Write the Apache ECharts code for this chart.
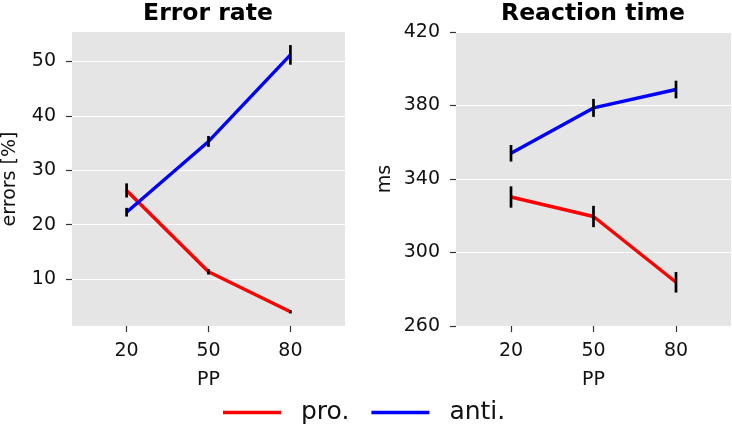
<!DOCTYPE html>
<html><head><meta charset="utf-8">
<script src="https://cdn.jsdelivr.net/npm/echarts@6/dist/echarts.min.js"></script>
<style>html,body{margin:0;padding:0;background:#fff}#c{width:732px;height:431px}</style>
</head><body><div id="c"></div>
<script>
const pp = [20, 50, 80];
const errPro = [26.3, 11.35, 4.0];
const errProSd = [1.3, 0.5, 0.3];
const errAnti = [22.3, 35.3, 51.2];
const errAntiSd = [0.8, 1.0, 1.8];
const rtPro = [330.2, 319.6, 283.8];
const rtProSd = [5.8, 5.8, 5.6];
const rtAnti = [354.0, 378.7, 388.7];
const rtAntiSd = [4.5, 4.9, 4.8];
const errTicks = [10, 20, 30, 40, 50];
const rtTicks = [260, 300, 340, 380, 420];
const titles = ['Error rate', 'Reaction time'];
const yNames = ['errors [%]', 'ms'];
const seriesNames = ['pro.', 'anti.'];

const pts = (xs, ys) => xs.map((x, i) => [x, ys[i]]);
const bars = (xs, ys, sd) => xs.map((x, i) => [x, ys[i] - sd[i], ys[i] + sd[i]]);
const font = 'DejaVu Sans';
const txt = '#111';

function xAxis(idx) {
  return {
    type: 'value', gridIndex: idx, min: 0, max: 100,
    name: 'PP', nameLocation: 'middle', nameGap: 45,
    nameTextStyle: { fontFamily: font, fontSize: 19, color: txt },
    axisLine: { show: false },
    axisTick: { show: true, length: 6, customValues: pp, lineStyle: { color: '#333', width: 1.2 } },
    axisLabel: { customValues: pp, fontFamily: font, fontSize: 19, color: txt, margin: 16 },
    splitLine: { show: false }
  };
}
function yAxis(idx, min, max, ticks) {
  return {
    type: 'value', gridIndex: idx, min: min, max: max,
    name: yNames[idx], nameLocation: 'middle', nameGap: idx === 0 ? 52 : 61, nameRotate: 90,
    nameTextStyle: { fontFamily: font, fontSize: 19, color: txt },
    axisLine: { show: false },
    axisTick: { show: true, length: 6, customValues: ticks, lineStyle: { color: '#333', width: 1.2 } },
    axisLabel: { customValues: ticks, fontFamily: font, fontSize: 19, color: txt, margin: 16 },
    splitLine: { show: true, lineStyle: { color: '#ffffff', width: 1.2 } }
  };
}
function errSeries(idx, data) {
  return {
    type: 'custom', xAxisIndex: idx, yAxisIndex: idx, z: 10, silent: true,
    renderItem: function (params, api) {
      const p1 = api.coord([api.value(0), api.value(1)]);
      const p2 = api.coord([api.value(0), api.value(2)]);
      return { type: 'line', shape: { x1: p1[0], y1: p1[1], x2: p2[0], y2: p2[1] },
        style: { stroke: '#000', lineWidth: 2.7 } };
    },
    encode: { x: 0, y: [1, 2] },
    data: data
  };
}
function lineSeries(idx, name, color, data) {
  return { type: 'line', name: name, xAxisIndex: idx, yAxisIndex: idx, data: data,
    symbol: 'none', lineStyle: { color: color, width: 3.4 }, itemStyle: { color: color }, z: 5 };
}

const chart = echarts.init(document.getElementById('c'), null, { renderer: 'canvas' });
chart.setOption({
  animation: false,
  backgroundColor: '#fff',
  title: [
    { text: titles[0], left: 208, top: 2, padding: 0, textAlign: 'center', textStyle: { fontFamily: font, fontWeight: 'bold', fontSize: 23.5, color: '#000' } },
    { text: titles[1], left: 593, top: 2, padding: 0, textAlign: 'center', textStyle: { fontFamily: font, fontWeight: 'bold', fontSize: 23.5, color: '#000' } }
  ],
  grid: [
    { left: 71, right: 387, top: 32, bottom: 105, show: true, backgroundColor: '#e5e5e5', borderWidth: 0 },
    { left: 456, right: 1, top: 32, bottom: 105, show: true, backgroundColor: '#e5e5e5', borderWidth: 0 }
  ],
  xAxis: [xAxis(0), xAxis(1)],
  yAxis: [yAxis(0, 1.4, 55.4, errTicks), yAxis(1, 260, 420, rtTicks)],
  legend: {
    left: 223, top: 400, padding: 0, itemWidth: 58, itemHeight: 3.3, itemGap: 22,
    icon: 'rect',
    data: seriesNames,
    textStyle: { fontFamily: font, fontSize: 25, color: '#111', padding: [0, 0, 0, 15] }
  },
  series: [
    lineSeries(0, seriesNames[0], '#ff0000', pts(pp, errPro)),
    lineSeries(0, seriesNames[1], '#0000ff', pts(pp, errAnti)),
    lineSeries(1, seriesNames[0], '#ff0000', pts(pp, rtPro)),
    lineSeries(1, seriesNames[1], '#0000ff', pts(pp, rtAnti)),
    errSeries(0, bars(pp, errPro, errProSd)),
    errSeries(0, bars(pp, errAnti, errAntiSd)),
    errSeries(1, bars(pp, rtPro, rtProSd)),
    errSeries(1, bars(pp, rtAnti, rtAntiSd))
  ]
});
</script></body></html>
